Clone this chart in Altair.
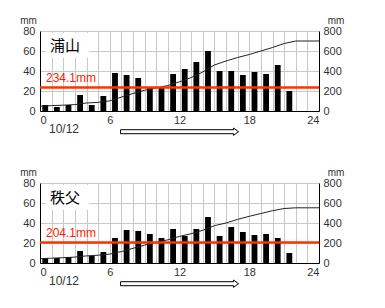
import altair as alt
import pandas as pd

# ---- data ----
hours = list(range(22))
urayama_rain = [6, 4, 6, 16, 6, 15, 38, 36, 33, 23, 24, 37, 42, 49, 60, 40, 40, 36, 39, 37, 46, 20]
chichibu_rain = [5, 5, 6, 12, 7, 11, 25, 33, 32, 29, 25, 34, 27, 34, 46, 27, 36, 31, 28, 29, 25, 10]
cum_hours = list(range(25))
urayama_cum = [48, 54, 58, 64, 80, 86, 101, 139, 175, 208, 231, 255, 292, 334, 390, 460,
               500, 535, 565, 600, 635, 675, 700, 700, 700]
chichibu_cum = [43, 48, 53, 59, 71, 78, 89, 114, 147, 179, 207, 232, 266, 293, 327, 373,
                400, 436, 467, 495, 523, 545, 552, 552, 552]
stations = ["浦山", "秩父"]
totals = [234.1, 204.1]
total_labels = ["234.1mm", "204.1mm"]
date_label = "10/12"
left_ticks = [0, 20, 40, 60, 80]
right_ticks = [0, 200, 400, 600, 800]

FONT = "Liberation Sans"
W, H = 279, 80
GRID = "#c8c8c8"
ARROW = "M-1,-0.034 L0.915,-0.034 L0.915,-0.062 L1,0 L0.915,0.062 L0.915,0.034 L-1,0.034 Z"

xscale = alt.Scale(domain=[0, 24], nice=False, zero=False)
xaxis = alt.Axis(values=cum_hours, labelExpr="datum.value % 6 == 0 ? datum.label : ''",
                 grid=True, gridColor=GRID, ticks=False, domainColor="#000",
                 labelOverlap=False, labelPadding=3, title=None)
yl_scale = alt.Scale(domain=[0, 80], nice=False)
yl_axis = alt.Axis(values=left_ticks, grid=True, gridColor=GRID, ticks=False,
                   domainColor="#000", labelPadding=5, title=None)
yr_scale = alt.Scale(domain=[0, 800], nice=False)
yr_axis = alt.Axis(values=right_ticks, orient="right", grid=False, ticks=False,
                   domainColor="#000", labelPadding=4, title=None)


def panel(name, rain, cum, total, total_label):
    bars_df = pd.DataFrame({"hour": hours, "rain": rain})
    cum_df = pd.DataFrame({"hour": cum_hours, "cum": cum})
    tot_df = pd.DataFrame({"total": [total], "label": [total_label]})
    one = pd.DataFrame({"name": [name], "date": [date_label]})

    bars = alt.Chart(bars_df).transform_calculate(
        x0="datum.hour + 0.2", x1="datum.hour + 0.7"
    ).mark_rect(color="#000").encode(
        x=alt.X("x0:Q", scale=xscale, axis=xaxis),
        x2="x1:Q",
        y=alt.Y("rain:Q", scale=yl_scale, axis=yl_axis),
        y2=alt.datum(0),
    )
    box = alt.Chart(one).mark_rect(fill="white").encode(
        x=alt.value(5), x2=alt.value(49), y=alt.value(2), y2=alt.value(27))
    title = alt.Chart(one).mark_text(font="Noto Sans CJK JP", fontSize=15, align="left",
                                     baseline="middle", color="#000").encode(
        x=alt.value(10), y=alt.value(14.5), text="name:N")
    mm_l = alt.Chart(one).mark_text(font=FONT, fontSize=10, align="center",
                                    baseline="bottom", color="#333").encode(
        x=alt.value(-11.5), y=alt.value(-5), text=alt.value("mm"))
    mm_r = alt.Chart(one).mark_text(font=FONT, fontSize=10, align="center",
                                    baseline="bottom", color="#333").encode(
        x=alt.value(W + 17), y=alt.value(-5), text=alt.value("mm"))
    date = alt.Chart(one).mark_text(font=FONT, fontSize=12, align="center",
                                    baseline="middle", color="#333").encode(
        x=alt.value(24), y=alt.value(H + 18), text="date:N")
    arrow = alt.Chart(one).mark_point(shape=ARROW, size=13924, filled=True, fill="white",
                                      stroke="#000", strokeWidth=1, opacity=1,
                                      fillOpacity=1, strokeOpacity=1).encode(
        x=alt.value(139.5), y=alt.value(H + 20.7))
    left = alt.layer(bars, box, title, mm_l, mm_r, date, arrow)

    line = alt.Chart(cum_df).mark_line(color="#222", strokeWidth=1).encode(
        x=alt.X("hour:Q", scale=xscale, axis=xaxis),
        y=alt.Y("cum:Q", scale=yr_scale, axis=yr_axis),
    )
    rule = alt.Chart(tot_df).mark_rule(color="#ff3300", strokeWidth=2.5).encode(
        x=alt.value(0), x2=alt.value(W),
        y=alt.Y("total:Q", scale=yr_scale, axis=yr_axis),
    )
    label = alt.Chart(tot_df).mark_text(font=FONT, fontSize=12, align="left",
                                        baseline="alphabetic", dy=-6,
                                        color="#ff2200").encode(
        x=alt.value(6),
        y=alt.Y("total:Q", scale=yr_scale, axis=yr_axis),
        text="label:N",
    )
    right = alt.layer(line, rule, label)
    return alt.layer(left, right).resolve_scale(y="independent").properties(width=W, height=H)


p1 = panel(stations[0], urayama_rain, urayama_cum, totals[0], total_labels[0])
p2 = panel(stations[1], chichibu_rain, chichibu_cum, totals[1], total_labels[1])

chart = alt.vconcat(p1, p2, spacing=72, bounds="flush").properties(
    padding={"left": 20, "top": 16, "right": 0, "bottom": 0},
    background="white",
).configure_view(stroke=None).configure_axis(
    labelFont=FONT, labelFontSize=11, labelColor="#333", domainWidth=1,
)

chart.save("out.html", embed_options={"renderer": "svg", "actions": False})
